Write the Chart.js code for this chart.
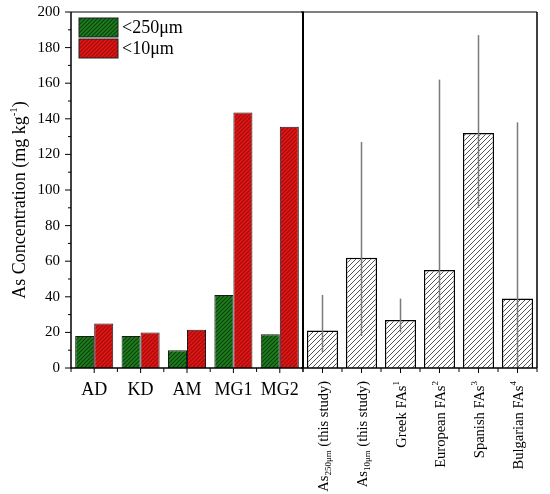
<!DOCTYPE html>
<html>
<head>
<meta charset="utf-8">
<script src="https://cdn.jsdelivr.net/npm/chart.js@4/dist/chart.umd.min.js"></script>
<style>
html, body { margin: 0; padding: 0; background: #fff; }
#wrap { position: relative; width: 550px; height: 494px; }
canvas { position: absolute; top: 0; }
#left { left: 0; }
#right { left: 290px; }
</style>
</head>
<body>
<div id="wrap">
  <canvas id="left" width="304" height="494"></canvas>
  <canvas id="right" width="260" height="494"></canvas>
</div>
<script>
// left panel: the five sites, two size fractions
const sites = ['AD', 'KD', 'AM', 'MG1', 'MG2'];
const coarse = [18, 18, 10, 41, 19];          // <250μm
const fine = [25, 20, 21.5, 143.5, 135.5];    // <10μm

// right panel: comparison with other fly ashes (mean + range)
const refCats = ['As250μm (this study)', 'As10μm (this study)', 'Greek FAs1', 'European FAs2', 'Spanish FAs3', 'Bulgarian FAs4'];
const refLabels = [
  [['As'], ['250μm', 'sub'], [' (this study)']],
  [['As'], ['10μm', 'sub'], [' (this study)']],
  [['Greek FAs'], ['1', 'sup']],
  [['European FAs'], ['2', 'sup']],
  [['Spanish FAs'], ['3', 'sup']],
  [['Bulgarian FAs'], ['4', 'sup']]
];
const refMean = [21, 62, 27, 55, 132, 39];
const refLow = [9, 18, 20, 22, 90, 0];
const refHigh = [41, 127, 39, 162, 187, 138];

const yMin = 0, yMax = 200, yStep = 20;
const yTitle = [['As Concentration (mg kg'], ['-1', 'sup'], [')']];

const SERIF = '"Liberation Serif", "DejaVu Serif", serif';

function hatch(bg, fg, size, lw) {
  const c = document.createElement('canvas');
  c.width = c.height = size;
  const x = c.getContext('2d');
  x.fillStyle = bg;
  x.fillRect(0, 0, size, size);
  x.strokeStyle = fg;
  x.lineWidth = lw;
  x.beginPath();
  x.moveTo(0, size); x.lineTo(size, 0);
  x.moveTo(-1, 1); x.lineTo(1, -1);
  x.moveTo(size - 1, size + 1); x.lineTo(size + 1, size - 1);
  x.stroke();
  return x.createPattern(c, 'repeat');
}

const greenFill = hatch('#1f7f1f', '#0c420c', 4, 1.2);
const redFill = hatch('#e41414', '#9a1010', 4, 1.2);
const greyFill = hatch('#ffffff', '#555555', 5, 1);

function segFont(kind, size) {
  return (kind ? Math.round(size * 0.62) : size) + 'px ' + SERIF;
}
function richWidth(ctx, segs, size) {
  let w = 0;
  segs.forEach(s => { ctx.font = segFont(s[1], size); w += ctx.measureText(s[0]).width; });
  return w;
}
function drawRich(ctx, segs, x, y, size) {
  ctx.textBaseline = 'alphabetic';
  ctx.textAlign = 'left';
  segs.forEach(s => {
    ctx.font = segFont(s[1], size);
    let dy = 0;
    if (s[1] === 'sub') dy = size * 0.25;
    if (s[1] === 'sup') dy = -size * 0.42;
    ctx.fillText(s[0], x, y + dy);
    x += ctx.measureText(s[0]).width;
  });
}

function line(ctx, x1, y1, x2, y2, w, col) {
  ctx.save();
  ctx.strokeStyle = col || '#000';
  ctx.lineWidth = w;
  ctx.beginPath();
  ctx.moveTo(x1, y1);
  ctx.lineTo(x2, y2);
  ctx.stroke();
  ctx.restore();
}

function bottomTicks(chart) {
  const ctx = chart.ctx, a = chart.chartArea, xs = chart.scales.x;
  const n = xs.getLabels().length;
  const w = (a.right - a.left) / n;
  for (let k = 0; k <= n; k++) line(ctx, a.left + k * w, a.bottom, a.left + k * w, a.bottom + 4, 1);
  for (let i = 0; i < n; i++) {
    const px = xs.getPixelForValue(i);
    line(ctx, px, a.bottom, px, a.bottom + 5, 1);
  }
}

const leftDecor = {
  id: 'leftDecor',
  afterDatasetsDraw(chart) {
    const ctx = chart.ctx, a = chart.chartArea, ys = chart.scales.y, xs = chart.scales.x;
    // frame
    line(ctx, a.left, a.top, a.left, a.bottom + 0.5, 1.5);
    line(ctx, a.left, a.bottom, a.right, a.bottom, 1.5);
    line(ctx, a.left, a.top, a.right + 2, a.top, 1);
    line(ctx, a.right, a.top, a.right, a.bottom, 2);
    // y ticks, major and minor
    for (let v = yMin; v <= yMax; v += yStep / 2) {
      const py = ys.getPixelForValue(v);
      const len = (v % yStep === 0) ? 6 : 3;
      line(ctx, a.left - len, py, a.left, py, 1);
    }
    bottomTicks(chart);
    // x labels
    ctx.save();
    ctx.fillStyle = '#000';
    ctx.font = '18px ' + SERIF;
    ctx.textAlign = 'center';
    ctx.textBaseline = 'alphabetic';
    sites.forEach((s, i) => ctx.fillText(s, xs.getPixelForValue(i), 395));
    ctx.restore();
    // y title
    ctx.save();
    ctx.fillStyle = '#000';
    ctx.translate(25, 200);
    ctx.rotate(-Math.PI / 2);
    const tw = richWidth(ctx, yTitle, 18);
    drawRich(ctx, yTitle, -tw / 2, 0, 18);
    ctx.restore();
    // legend
    ctx.save();
    chart.data.datasets.forEach((ds, i) => {
      const by = 18 + i * 21;
      ctx.fillStyle = ds.backgroundColor;
      ctx.fillRect(79, by, 39, 19);
      ctx.strokeStyle = '#222';
      ctx.lineWidth = 1;
      ctx.strokeRect(79, by, 39, 19);
      ctx.fillStyle = '#000';
      ctx.font = '18px ' + SERIF;
      ctx.textAlign = 'left';
      ctx.textBaseline = 'middle';
      ctx.fillText(ds.label, 122, by + 10);
    });
    ctx.restore();
  }
};

const rightDecor = {
  id: 'rightDecor',
  afterDatasetsDraw(chart) {
    const ctx = chart.ctx, a = chart.chartArea, ys = chart.scales.y, xs = chart.scales.x;
    // range lines
    refMean.forEach((m, i) => {
      const px = xs.getPixelForValue(i);
      line(ctx, px, ys.getPixelForValue(refLow[i]), px, ys.getPixelForValue(refHigh[i]), 1.5, '#7a7a7a');
    });
    // frame
    line(ctx, a.left - 2, a.top, a.right, a.top, 1);
    line(ctx, a.left - 2, a.bottom, a.right, a.bottom, 1.5);
    line(ctx, a.right, a.top, a.right, a.bottom, 1.5);
    bottomTicks(chart);
    // rotated labels
    ctx.save();
    ctx.fillStyle = '#000';
    refLabels.forEach((segs, i) => {
      const px = xs.getPixelForValue(i);
      const w = richWidth(ctx, segs, 14.5);
      ctx.save();
      ctx.translate(px + 5, 381);
      ctx.rotate(-Math.PI / 2);
      drawRich(ctx, segs, -w, 0, 14.5);
      ctx.restore();
    });
    ctx.restore();
  }
};

const xScale = {
  grid: { display: false, drawTicks: false },
  border: { display: false },
  ticks: { display: false },
  afterFit: s => { s.height = 126; }
};

new Chart(document.getElementById('left'), {
  type: 'bar',
  data: {
    labels: sites,
    datasets: [
      { label: '<250μm', data: coarse, backgroundColor: greenFill, borderColor: '#1a1a1a', borderWidth: 1 },
      { label: '<10μm', data: fine, backgroundColor: redFill, borderColor: '#1a1a1a', borderWidth: 1 }
    ]
  },
  options: {
    responsive: false,
    animation: false,
    layout: { padding: { top: 12, right: 1, left: 0, bottom: 0 } },
    categoryPercentage: 0.82,
    barPercentage: 1,
    scales: {
      x: xScale,
      y: {
        min: yMin, max: yMax,
        grid: { display: false, drawTicks: false },
        border: { display: false },
        ticks: { stepSize: yStep, padding: 11, color: '#000', font: { family: SERIF, size: 15 } },
        afterFit: s => { s.width = 71; s.paddingTop = 0; s.paddingBottom = 0; }
      }
    },
    plugins: { legend: { display: false }, tooltip: { enabled: false } }
  },
  plugins: [leftDecor]
});

new Chart(document.getElementById('right'), {
  type: 'bar',
  data: {
    labels: refCats,
    datasets: [
      { label: 'Comparison', data: refMean, backgroundColor: greyFill, borderColor: '#000', borderWidth: 1.5 }
    ]
  },
  options: {
    responsive: false,
    animation: false,
    layout: { padding: { top: 12, right: 13, left: 13, bottom: 0 } },
    categoryPercentage: 1,
    barPercentage: 0.8,
    scales: {
      x: xScale,
      y: { min: yMin, max: yMax, display: false }
    },
    plugins: { legend: { display: false }, tooltip: { enabled: false } }
  },
  plugins: [rightDecor]
});
</script>
</body>
</html>
